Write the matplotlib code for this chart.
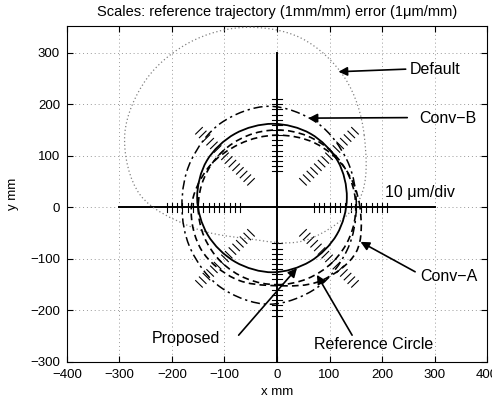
import numpy as np
import matplotlib
matplotlib.use("Agg")
import matplotlib.pyplot as plt
from matplotlib.path import Path
from matplotlib.patches import PathPatch, Circle

plt.rcParams['font.family'] = ['Liberation Sans', 'DejaVu Sans']

# --- data -----------------------------------------------------------
ANGLES = [0, 30, 60, 90, 120, 150, 180, 210, 240, 270, 300, 330]   # deg

REF_R = 150                                   # reference circle radius, mm

# trajectory radii (mm, error amplified) about each curve's centre
DEFAULT_C = (-62, 140)
DEFAULT_R = [228, 221, 217, 209, 208, 216, 228, 230, 205, 200, 235, 252]
CONVB_C = (-15, 4)
CONVB_R = [166, 172, 184, 192, 184, 172, 166, 172, 184, 192, 184, 172]
PROPOSED_C = (-8, 18)
PROPOSED_R = [141, 143, 144, 144, 144, 145, 144, 143, 143, 144, 142, 141]
CONVA_C = (0, 0)
CONVA_R = [158, 150, 144, 140, 142, 152, 163, 166, 160, 152, 165, 174]

SCALE_TICKS = [70, 80, 90, 100, 110, 120, 130, 140, 150, 160, 170, 180, 190, 200, 210]
SCALE_DIRS = [0, 45, 90, 135, 180, 225, 270, 315]

XTICKS = [-400, -300, -200, -100, 0, 100, 200, 300, 400]
YTICKS = [-300, -200, -100, 0, 100, 200, 300]

# label text, text anchor, arrow tail, arrow tip
LABELS = [
    ("Default", (253, 267), (245, 268), (117, 263)),
    ("Conv\u2212B", (270, 173), (248, 174), (60, 173)),
    ("Conv\u2212A", (273, -135), (263, -125), (159, -67)),
    ("Reference Circle", (70, -267), (143, -248), (76, -131)),
    ("Proposed", (-238, -254), (-73, -248), (38, -118)),
]


def closed_curve(c, radii):
    th = np.deg2rad(ANGLES)
    r = np.asarray(radii, float)
    pts = np.column_stack([c[0] + r * np.cos(th), c[1] + r * np.sin(th)])
    n = len(pts)
    verts = [pts[0]]
    codes = [Path.MOVETO]
    for i in range(n):
        p0, p1, p2, p3 = pts[i - 1], pts[i], pts[(i + 1) % n], pts[(i + 2) % n]
        verts += [p1 + (p2 - p0) / 6, p2 - (p3 - p1) / 6, p2]
        codes += [Path.CURVE4] * 3
    return Path(verts, codes)


fig = plt.figure(figsize=(4.92, 4.04), dpi=100)
ax = fig.add_axes([0.136, 0.104, 0.854, 0.832])
ax.set_xlim(-400, 400)
ax.set_ylim(-300, 352)
ax.set_xticks(XTICKS)
ax.set_yticks(YTICKS)
ax.tick_params(direction="in", top=True, right=True, length=4, labelsize=9.5, pad=5)
ax.grid(True, color="0.6", linestyle=(0, (1, 3)), lw=0.7)
ax.set_axisbelow(True)
for s in ax.spines.values():
    s.set_linewidth(0.8)

# cross-hair axes
ax.plot([-300, 300], [0, 0], color="k", lw=1.4, zorder=3)
ax.plot([0, 0], [-300, 300], color="k", lw=1.4, zorder=3)

# error scale ladders (10 um/div)
for d in SCALE_DIRS:
    a = np.deg2rad(d)
    u = np.array([np.cos(a), np.sin(a)])
    t = np.array([-np.sin(a), np.cos(a)]) * 9
    for rr in SCALE_TICKS:
        p = u * rr
        ax.plot([p[0] - t[0], p[0] + t[0]], [p[1] - t[1], p[1] + t[1]],
                color="k", lw=0.8, zorder=3)

# trajectories
ax.add_patch(PathPatch(closed_curve(DEFAULT_C, DEFAULT_R), fill=False,
             ec="0.5", lw=0.9, ls=(0, (1, 2)), zorder=4))
ax.add_patch(PathPatch(closed_curve(CONVB_C, CONVB_R), fill=False,
             ec="k", lw=1.1, ls=(0, (6, 2.5, 1.5, 2.5)), zorder=4))
ax.add_patch(Circle((0, 0), REF_R, fill=False, ec="k", lw=1.2,
             ls=(0, (4, 2.5)), zorder=4))
ax.add_patch(PathPatch(closed_curve(CONVA_C, CONVA_R), fill=False,
             ec="k", lw=1.2, ls=(0, (4, 2.5)), zorder=4))
ax.add_patch(PathPatch(closed_curve(PROPOSED_C, PROPOSED_R), fill=False,
             ec="k", lw=1.3, zorder=5))

# labels + arrows
for txt, pos, tail, tip in LABELS:
    ax.text(pos[0], pos[1], txt, ha="left", va="center", fontsize=11.5, zorder=6)
    ax.annotate("", xy=tip, xytext=tail,
                arrowprops=dict(arrowstyle="-|>", color="k", lw=1.2,
                                mutation_scale=13, shrinkA=0, shrinkB=0),
                zorder=6)
ax.text(206, 28, "10 \u03bcm/div", ha="left", va="center", fontsize=11.5, zorder=6)

ax.set_title("Scales: reference trajectory (1mm/mm) error (1\u03bcm/mm)",
             fontsize=10.5, pad=7)
ax.set_xlabel("x mm", fontsize=9.5, labelpad=4)
ax.set_ylabel("y mm", fontsize=9.5, labelpad=8)

fig.savefig("out.png", dpi=100)
